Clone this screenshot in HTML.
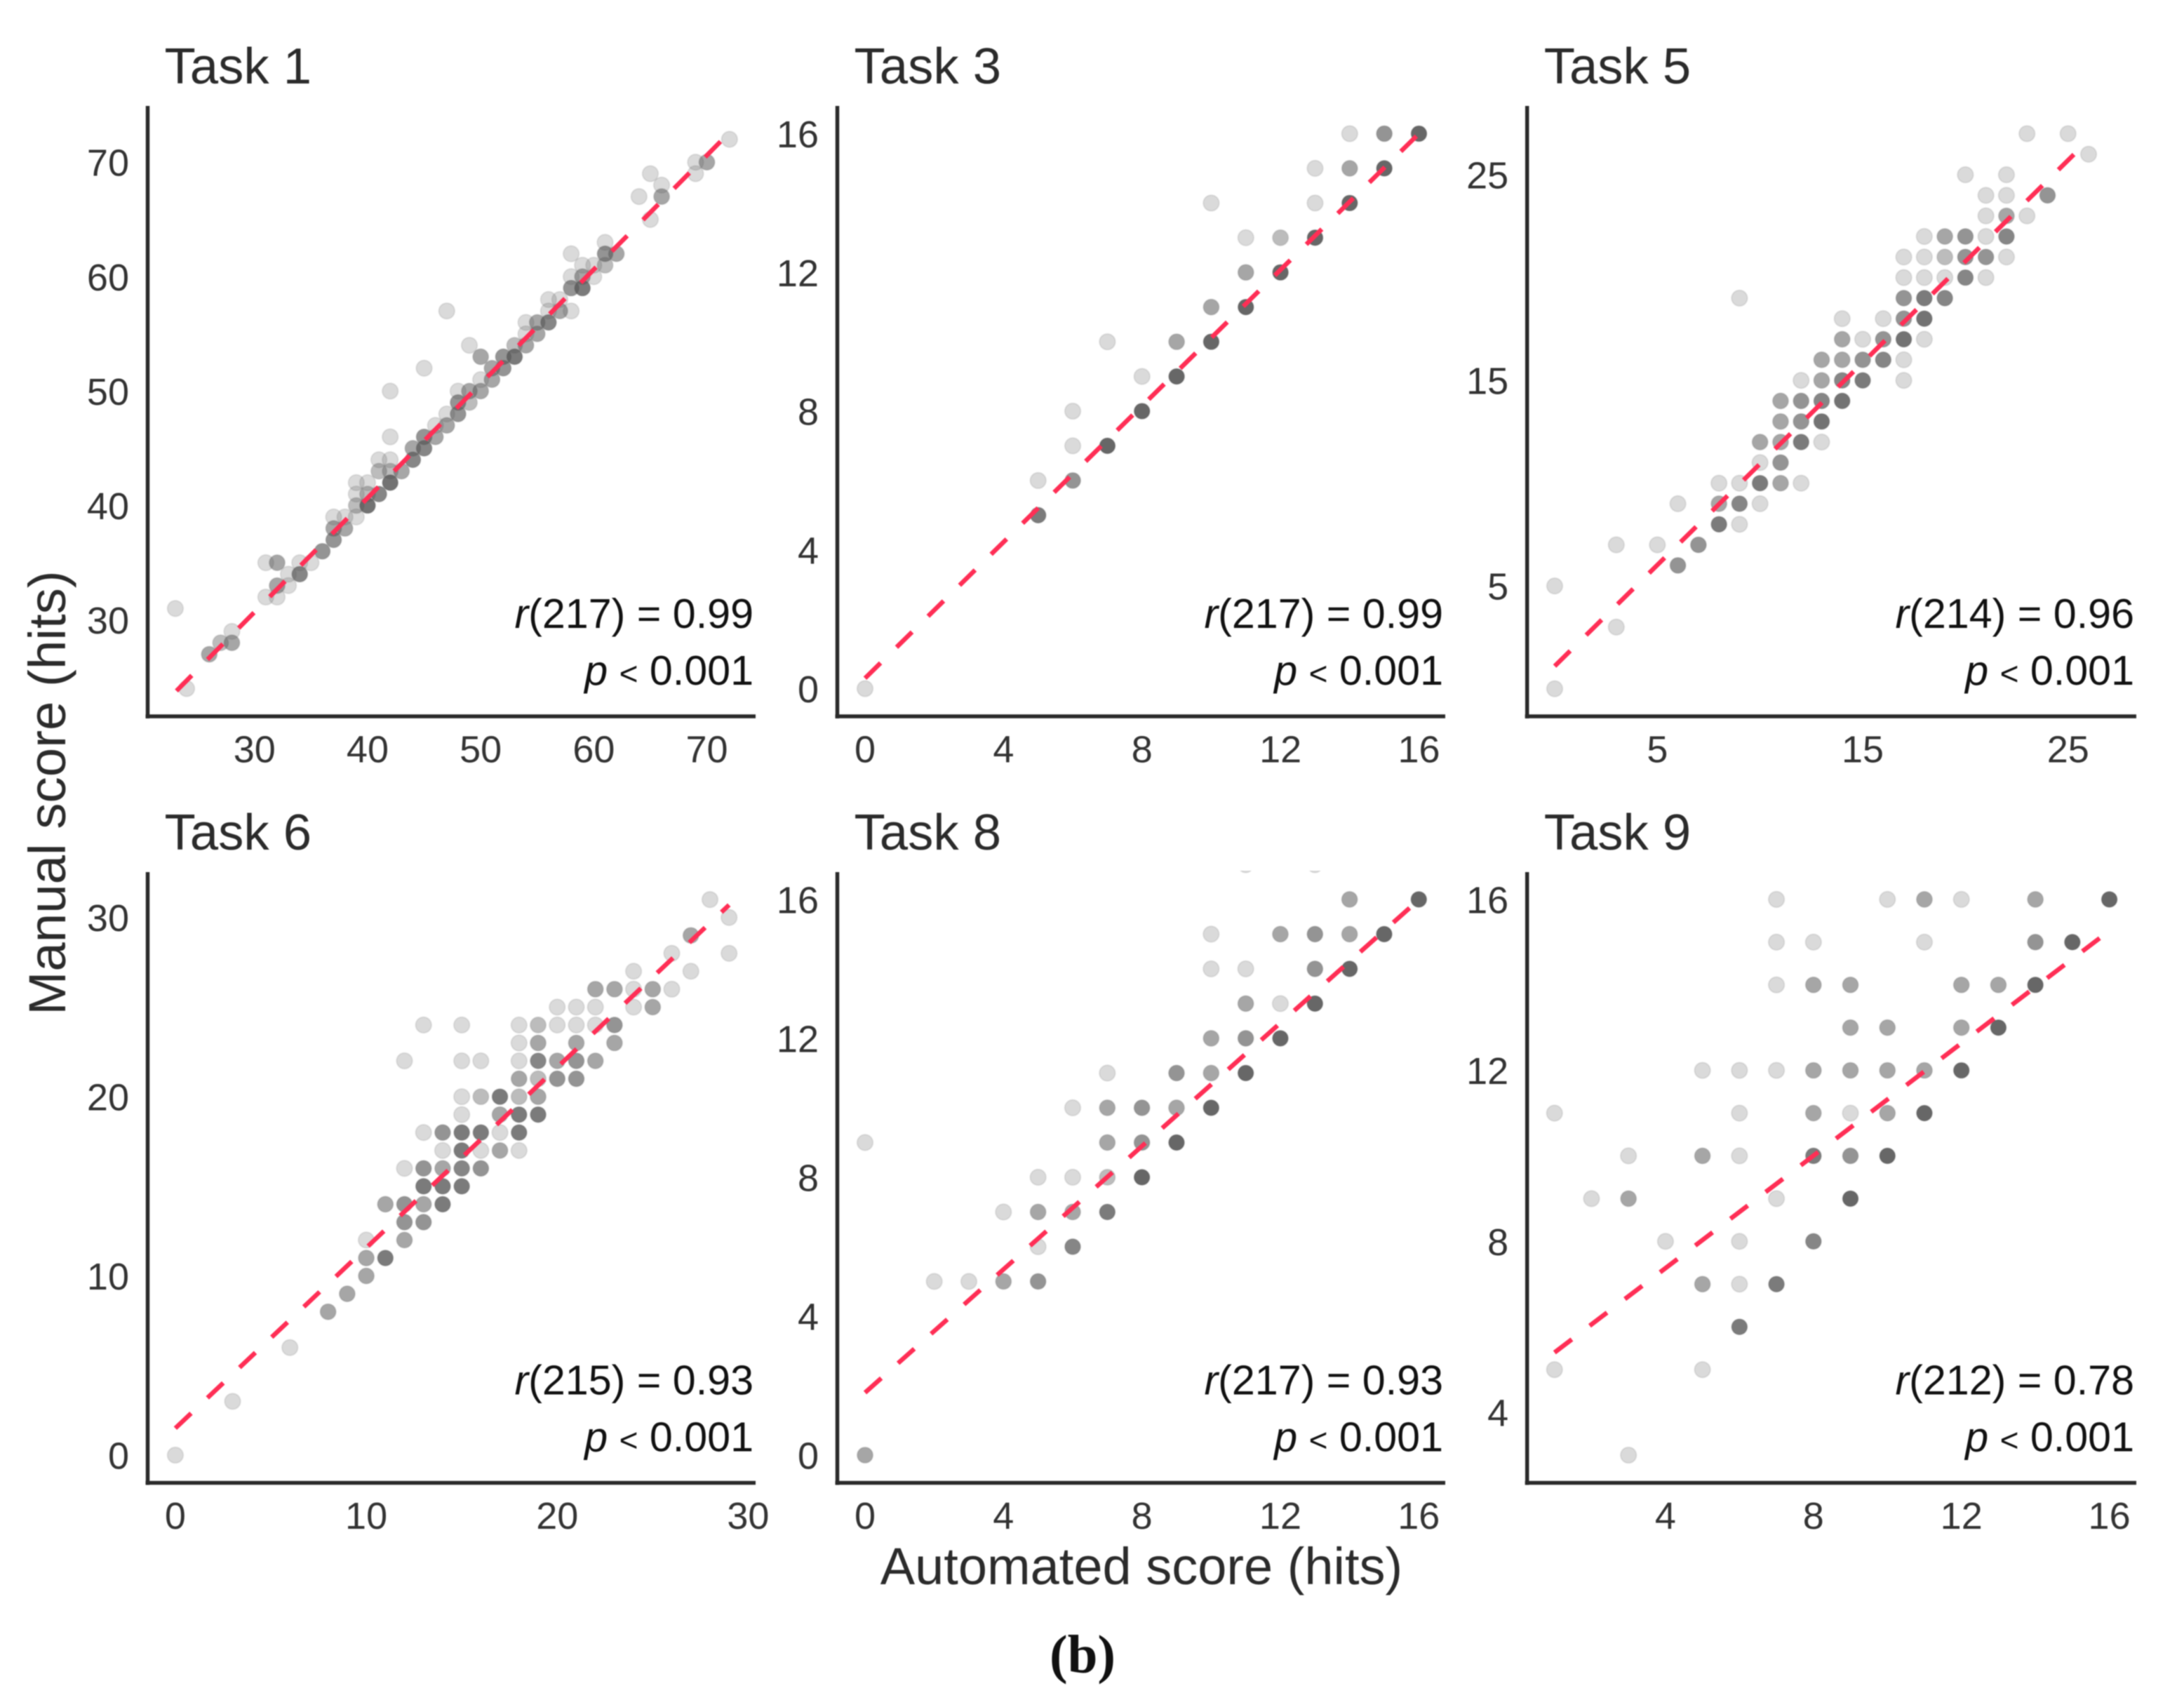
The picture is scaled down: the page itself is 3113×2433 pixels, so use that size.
<!DOCTYPE html>
<html lang="en">
<head>
<meta charset="utf-8">
<title>Manual vs automated score</title>
<style>
html,body{margin:0;padding:0;background:#fff;width:3113px;height:2433px;overflow:hidden}
svg{position:absolute;left:0;top:0;display:block;filter:blur(0.8px)}
text{font-family:"Liberation Sans",sans-serif}
</style>
</head>
<body>
<svg id="figure" xmlns="http://www.w3.org/2000/svg" width="3113" height="2433" viewBox="0 0 3113 2433">
  <rect x="0" y="0" width="3113" height="2433" fill="#ffffff"/>
  <text transform="translate(93,1130) rotate(-90)" text-anchor="middle" font-size="74.5" fill="#2b2b2b">Manual score (hits)</text>
  <text x="1627" y="2258" text-anchor="middle" font-size="74" fill="#2b2b2b">Automated score (hits)</text>
  <text x="1543" y="2384" text-anchor="middle" font-size="77" font-weight="bold" style="font-family:'Liberation Serif',serif" fill="#111">(b)</text>
</svg>
<script>
const task1X=[72,70,69,69,65,66,66,64,65,61,58,61,62,59,60,61,58,59,60,58,59,56,57,56,57,58,54,55,56,54,55,53,54,53,52,47,49,50,51,52,50,51,45,42,48,49,50,48,49,47,48,46,47,45,46,42,44,45,44,41,42,41,42,43,39,40,42,39,40,41,39,40,39,37,38,37,38,37,36,31,32,34,35,33,34,32,33,31,32,23,28,27,28,26,24];
const task1Y=[72,70,70,69,69,68,67,67,65,63,62,62,62,61,61,61,60,60,60,59,59,58,58,57,57,57,56,56,56,55,55,54,54,53,53,57,54,53,52,52,51,51,52,50,50,50,50,49,49,48,48,47,47,46,46,46,45,45,44,44,44,43,43,43,42,42,42,41,41,41,40,40,39,39,39,38,38,37,36,35,35,35,35,34,34,33,33,32,32,31,29,28,28,27,24];
const task1N=[1,3,1,1,1,1,3,1,1,1,1,4,3,1,1,2,1,3,1,4,6,1,1,1,3,1,1,3,5,1,3,2,3,6,4,1,1,3,3,4,1,3,1,1,1,3,3,4,2,1,4,1,3,4,3,1,3,5,5,1,1,2,2,3,1,1,7,1,2,5,2,7,1,1,1,3,3,4,4,1,3,1,1,1,5,3,1,1,1,1,1,2,3,3,1];
const task1Fit=[23.1,23.8,71.6,72.2];
const task1XTicks=[30,40,50,60,70];
const task1YTicks=[30,40,50,60,70];

const task3X=[14,15,16,13,14,15,10,13,14,11,12,13,11,12,10,11,7,9,10,8,9,6,8,6,7,5,6,5,0];
const task3Y=[16,16,16,15,15,15,14,14,14,13,13,13,12,12,11,11,10,10,10,9,9,8,8,7,7,6,6,5,0];
const task3N=[1,4,9,1,3,9,1,1,9,1,2,9,3,9,3,9,1,3,9,1,9,1,9,1,9,1,4,6,1];
const task3Fit=[0,0.3,16,16];
const task3XTicks=[0,4,8,12,16];
const task3YTicks=[0,4,8,12,16];

const task5X=[23,25,26,20,22,21,22,24,21,22,23,18,19,20,21,22,17,18,19,20,21,22,17,18,19,20,21,9,17,18,19,14,16,17,18,14,15,16,17,18,13,14,15,16,17,12,13,14,15,17,11,12,13,14,11,12,13,10,11,12,13,10,11,8,9,10,11,12,6,8,9,10,8,9,3,5,7,6,0,3,0];
const task5Y=[27,27,26,25,25,24,24,24,23,23,23,22,22,22,22,22,21,21,21,21,21,21,20,20,20,20,20,19,19,19,19,18,18,18,18,17,17,17,17,17,16,16,16,16,16,15,15,15,15,15,14,14,14,14,13,13,13,12,12,12,12,11,11,10,10,10,10,10,9,9,9,9,8,8,7,7,7,6,5,3,0];
const task5N=[1,1,1,1,1,1,1,4,1,3,1,1,3,4,1,5,1,1,2,4,4,1,1,1,1,5,1,1,4,6,5,1,1,4,7,3,1,4,7,1,3,3,4,5,1,1,3,5,6,1,3,4,5,7,3,4,7,3,3,6,1,1,4,1,1,6,3,1,1,3,5,1,6,1,1,1,4,4,1,1,1];
const task5Fit=[0,1.1,25.5,26.2];
const task5XTicks=[5,15,25];
const task5YTicks=[5,15,25];

const task6X=[28,29,29,27,26,27,24,26,25,24,23,22,20,21,22,24,25,13,15,18,19,20,21,22,23,18,19,21,23,12,15,16,18,19,20,21,22,18,19,20,21,15,16,17,18,19,15,17,18,19,13,14,15,16,17,18,14,15,16,17,18,12,13,14,15,16,13,14,15,11,12,13,14,12,13,10,12,10,11,10,9,8,6,3,0];
const task6Y=[31,30,28,29,28,27,27,26,26,26,26,26,25,25,25,25,25,24,24,24,24,24,24,24,24,23,23,23,23,22,22,22,22,22,22,22,22,21,21,21,21,20,20,20,20,20,19,19,19,19,18,18,18,18,18,18,17,17,17,17,17,16,16,16,16,16,15,15,15,14,14,14,14,13,13,12,12,11,11,10,9,8,6,3,0];
const task6N=[1,1,1,3,1,1,1,1,3,1,3,3,1,1,1,1,3,1,1,1,2,1,1,1,4,1,3,3,3,1,1,1,1,5,3,4,3,3,2,4,4,1,2,6,2,3,1,3,6,6,1,4,6,6,1,6,1,6,1,3,1,1,4,3,5,4,6,6,6,3,4,3,6,4,4,1,3,3,6,3,3,3,1,1,1];
const task6Fit=[0,1.5,29,30.7];
const task6XTicks=[0,10,20,30];
const task6YTicks=[0,10,20,30];

const task8X=[11,13,14,16,10,12,13,14,15,10,11,13,14,11,12,13,10,11,12,7,9,10,11,6,7,8,9,10,0,7,8,9,5,6,7,8,4,5,6,7,5,6,2,3,4,5,0];
const task8Y=[17,17,16,16,15,15,15,15,15,14,14,14,14,13,13,13,12,12,12,11,11,11,11,10,10,10,10,10,9,9,9,9,8,8,8,8,7,7,7,7,6,6,5,5,5,5,0];
const task8N=[1,1,3,9,1,3,4,3,9,1,1,4,9,3,1,9,3,4,9,1,4,3,9,1,3,4,3,9,1,3,4,9,1,1,2,9,1,3,3,6,1,5,1,1,3,4,3];
const task8Fit=[0,1.8,15.9,15.9];
const task8XTicks=[0,4,8,12,16];
const task8YTicks=[0,4,8,12,16];

const task9X=[7,10,11,12,14,16,7,8,11,14,15,7,8,9,12,13,14,9,10,12,13,5,6,7,8,9,10,11,12,1,6,8,9,10,11,3,5,6,8,9,10,2,3,7,9,4,6,8,5,6,7,6,1,5,3];
const task9Y=[16,16,16,16,16,16,15,15,15,15,15,14,14,14,14,14,14,13,13,13,13,12,12,12,12,12,12,12,12,11,11,11,11,11,11,10,10,10,10,10,10,9,9,9,9,8,8,8,7,7,7,6,5,5,3];
const task9N=[1,1,3,1,3,9,1,1,1,4,9,1,3,3,3,3,9,3,3,3,9,1,1,1,3,3,3,3,9,1,1,3,1,3,9,1,3,1,6,4,9,1,3,1,9,1,1,5,3,1,6,6,1,1,1];
const task9Fit=[1,5.4,15.9,15.2];
const task9XTicks=[4,8,12,16];
const task9YTicks=[4,8,12,16];

const taskTitles=['Task 1','Task 3','Task 5','Task 6','Task 8','Task 9'];
const statDf=['217','217','214','215','217','212'];
const statR=['0.99','0.99','0.96','0.93','0.93','0.78'];
const statP='0.001';

const NS='http://www.w3.org/2000/svg';
const svg=document.getElementById('figure');
function mk(tag,attrs,parent){
  const el=document.createElementNS(NS,tag);
  for(const k in attrs){el.setAttribute(k,attrs[k]);}
  parent.appendChild(el);
  return el;
}
function linear(v0,p0,v1,p1){
  return function(v){return p0+(v-v0)*(p1-p0)/(v1-v0);};
}
const R=11.3;
function alphaFor(n){return 1-Math.pow(0.78,n);}

function drawPanel(cfg,xs,ys,ns,fit,xTicks,yTicks,idx){
  const g=mk('g',{},svg);
  
  
  const sx=linear(cfg.xA[0],cfg.xA[1],cfg.xB[0],cfg.xB[1]);
  const sy=linear(cfg.yA[0],cfg.yA[1],cfg.yB[0],cfg.yB[1]);
  const clipId='clip'+idx;
  const defs=mk('defs',{},g);
  const cp=mk('clipPath',{id:clipId},defs);
  mk('rect',{x:cfg.left,y:cfg.top-2,width:cfg.right-cfg.left+30,height:cfg.bottom-cfg.top+2},cp);

  const pts=mk('g',{'clip-path':'url(#'+clipId+')'},g);
  
  
  for(let i=0;i<xs.length;i++){
    const c=mk('circle',{cx:sx(xs[i]),cy:sy(ys[i]),r:R,fill:'#555555','fill-opacity':alphaFor(ns[i]).toFixed(3),stroke:'#555555','stroke-opacity':'0.12','stroke-width':'2'},pts);
    
    
  }
  const ln=mk('line',{x1:sx(fit[0]),y1:sy(fit[1]),x2:sx(fit[2]),y2:sy(fit[3]),stroke:'#ff2e55','stroke-width':'6.5','stroke-dasharray':'31 32'},g);
  
  

  const ax=mk('line',{x1:cfg.left,y1:cfg.top,x2:cfg.left,y2:cfg.bottom+3,stroke:'#2a2a2a','stroke-width':'5.5'},g);
  
  
  const ay=mk('line',{x1:cfg.left-3,y1:cfg.bottom,x2:cfg.right,y2:cfg.bottom,stroke:'#2a2a2a','stroke-width':'5.5'},g);
  
  

  xTicks.forEach(function(t){
    const el=mk('text',{x:sx(t),y:cfg.bottom+65.5,'text-anchor':'middle','font-size':'54',fill:'#333333'},g);
    el.textContent=String(t);
    
    
  });
  yTicks.forEach(function(t){
    const el=mk('text',{x:cfg.left-26.5,y:sy(t)+19.5,'text-anchor':'end','font-size':'54',fill:'#333333'},g);
    el.textContent=String(t);
    
    
  });

  const title=mk('text',{x:cfg.left+24,y:cfg.top-32,'font-size':'72.5',fill:'#2b2b2b'},g);
  title.textContent=taskTitles[idx];
  
  

  const s1=mk('text',{x:cfg.right-3,y:cfg.bottom-126,'text-anchor':'end','font-size':'59.2',fill:'#111111'},g);
  
  
  const r=mk('tspan',{'font-style':'italic'},s1);
  r.textContent='r';
  const rest=mk('tspan',{},s1);
  rest.textContent='('+statDf[idx]+') = '+statR[idx];

  const s2=mk('text',{x:cfg.right-3,y:cfg.bottom-45,'text-anchor':'end','font-size':'59.2',fill:'#111111'},g);
  
  
  const p=mk('tspan',{'font-style':'italic'},s2);
  p.textContent='p ';
  const lt=mk('tspan',{'font-size':'46'},s2);
  lt.textContent='<';
  const rest2=mk('tspan',{},s2);
  rest2.textContent=' '+statP;
}

const panelTask1={left:210.5,right:1077,top:151,bottom:1021,xA:[23,249.9],xB:[72,1039.8],yA:[31,867.3],yB:[72,198.6]};
const panelTask3={left:1193.5,right:2060,top:151,bottom:1021,xA:[0,1233],xB:[16,2022.5],yA:[0,981.5],yB:[16,190.5]};
const panelTask5={left:2176.7,right:3045,top:151,bottom:1021,xA:[0,2216],xB:[26,2977],yA:[0,981.7],yB:[26,219.8]};
const panelTask6={left:210.5,right:1077,top:1243,bottom:2113.5,xA:[0,249.9],xB:[29,1039.2],yA:[0,2074],yB:[30,1307.7]};
const panelTask8={left:1193.5,right:2060,top:1243,bottom:2113.5,xA:[0,1233],xB:[16,2022.3],yA:[0,2074],yB:[16,1281.9]};
const panelTask9={left:2176.7,right:3045,top:1243,bottom:2113.5,xA:[3,2321.2],xB:[16,3006.6],yA:[3,2074],yB:[16,1281.9]};

drawPanel(panelTask1,task1X,task1Y,task1N,task1Fit,task1XTicks,task1YTicks,0);
drawPanel(panelTask3,task3X,task3Y,task3N,task3Fit,task3XTicks,task3YTicks,1);
drawPanel(panelTask5,task5X,task5Y,task5N,task5Fit,task5XTicks,task5YTicks,2);
drawPanel(panelTask6,task6X,task6Y,task6N,task6Fit,task6XTicks,task6YTicks,3);
drawPanel(panelTask8,task8X,task8Y,task8N,task8Fit,task8XTicks,task8YTicks,4);
drawPanel(panelTask9,task9X,task9Y,task9N,task9Fit,task9XTicks,task9YTicks,5);
</script>
</body>
</html>
